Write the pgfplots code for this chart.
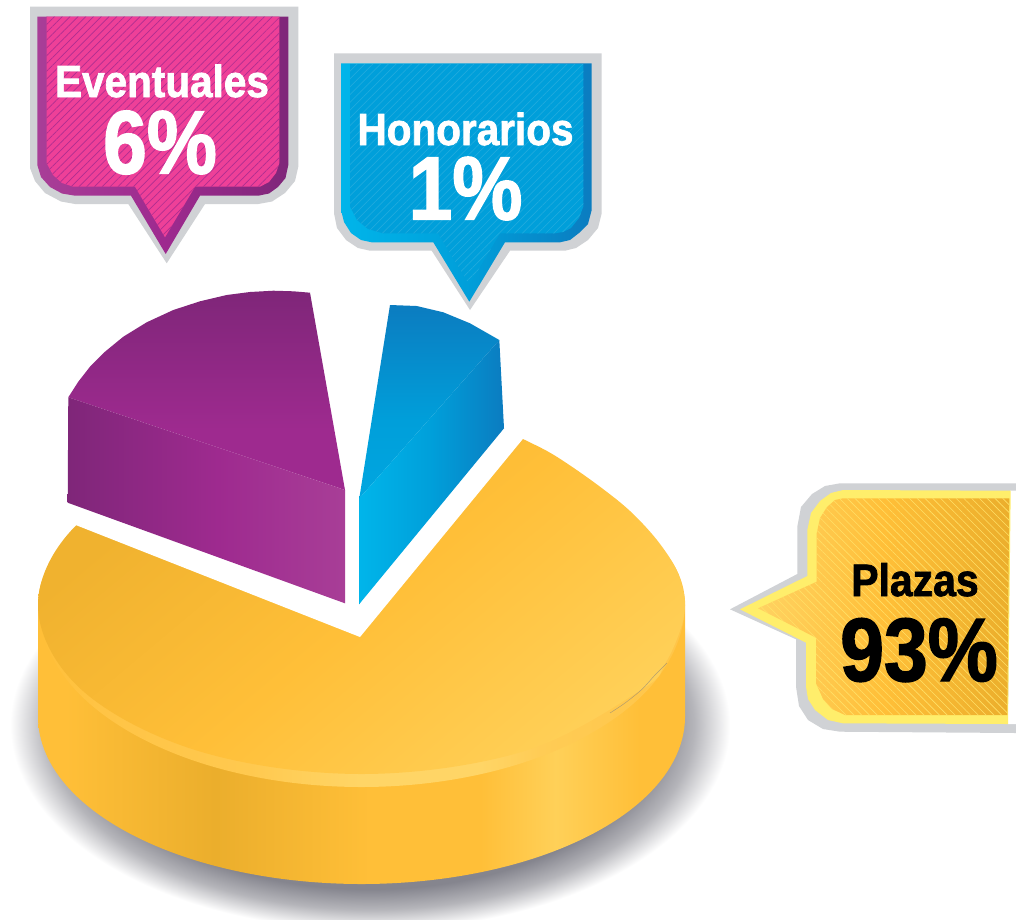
\documentclass[border=0pt]{standalone}
\usepackage{pgfplots}
\usepackage{pgfplotstable}
\usepackage{fontspec}
\pgfplotsset{compat=1.18}
\usetikzlibrary{patterns.meta}
\setmainfont{Liberation Sans}
\newfontface\heavy[FakeBold=1.6,FakeStretch=0.9]{Liberation Sans Bold}
\newfontface\heavyB[FakeBold=1.6,FakeStretch=0.875]{Liberation Sans Bold}
\definecolor{oA}{HTML}{FFBF38}\definecolor{oB}{HTML}{EBAE2C}\definecolor{oC}{HTML}{FFD058}
\definecolor{oD}{HTML}{F0B22F}\definecolor{oE}{HTML}{FFD262}
\definecolor{bA}{HTML}{FFC445}\definecolor{bB}{HTML}{FFC94F}\definecolor{bC}{HTML}{FFD566}\definecolor{bD}{HTML}{FFCC55}\definecolor{bE}{HTML}{FFC548}
\definecolor{pA}{HTML}{7F2679}\definecolor{pB}{HTML}{9E2A8F}\definecolor{pC}{HTML}{A83E97}
\definecolor{cA}{HTML}{00B5EA}\definecolor{cB}{HTML}{009FDA}\definecolor{cC}{HTML}{0B7CC0}\definecolor{cD}{HTML}{00A6E0}
\definecolor{gry}{HTML}{D0D2D5}\definecolor{pink}{HTML}{EE4098}\definecolor{ylw}{HTML}{FFEE6B}
\definecolor{sd}{HTML}{85858E}\definecolor{sm}{HTML}{B5B5BA}\definecolor{wh}{HTML}{FFFFFF}
\pgfdeclarehorizontalshading{sideS}{100bp}{color(0bp)=(oA);color(25bp)=(oA);color(27.1bp)=(oA);color(38.7bp)=(oB);color(50.7bp)=(oA);color(59.2bp)=(oA);color(65bp)=(oC);color(71.5bp)=(oA);color(100bp)=(oA)}
\pgfdeclarehorizontalshading{bandS}{100bp}{color(0bp)=(oA);color(25bp)=(oA);color(29.8bp)=(bA);color(41.4bp)=(bB);color(50bp)=(bC);color(59.2bp)=(bC);color(63.8bp)=(bD);color(75bp)=(bE);color(100bp)=(bE)}
\pgfdeclarehorizontalshading{topS}{100bp}{color(0bp)=(oD);color(30bp)=(oD);color(52bp)=(oA);color(76bp)=(oC);color(100bp)=(oC)}
\pgfdeclarehorizontalshading{purS}{100bp}{color(0bp)=(pA);color(25bp)=(pA);color(52bp)=(pB);color(75bp)=(pC);color(100bp)=(pC)}
\pgfdeclarehorizontalshading{purO}{100bp}{color(0bp)=(pC);color(25bp)=(pC);color(50bp)=(pB);color(75bp)=(pA);color(100bp)=(pA)}
\pgfdeclareverticalshading{purT}{100bp}{color(0bp)=(pB);color(40bp)=(pB);color(75bp)=(pA);color(100bp)=(pA)}
\pgfdeclarehorizontalshading{cyaS}{100bp}{color(0bp)=(cA);color(25bp)=(cA);color(50bp)=(cB);color(75bp)=(cC);color(100bp)=(cC)}
\pgfdeclareverticalshading{cyaT}{100bp}{color(0bp)=(cD);color(25bp)=(cD);color(45bp)=(cB);color(75bp)=(cC);color(100bp)=(cC)}
\pgfdeclarehorizontalshading{goldS}{100bp}{color(0bp)=(oE);color(25bp)=(oE);color(50bp)=(oA);color(75bp)=(oB);color(100bp)=(oB)}
\pgfdeclareradialshading{shad}{\pgfpoint{0bp}{0bp}}{color(0bp)=(sd);color(20bp)=(sd);color(22.5bp)=(sm);color(25bp)=(wh);color(50bp)=(wh)}

\pgfplotstableread{
x y
0 0
1016 0
1016 919
0 919
}\tPage
\pgfplotstableread{
x y
10 520
730 520
730 930
10 930
}\tShadow
\pgfplotstableread{
x y
361.5 550
523.3 572.6
641.7 634
685 717
641.7 800.5
523.3 861.6
361.5 884
199.7 861.6
81.3 800.5
38 717
81.3 634
199.7 572.6
361.5 550
}\tBottom
\pgfplotstableread{
x y
38 605
685 605
685 717
38 717
}\tRect
\pgfplotstableread{
x y
361.5 455
523.3 475
641.7 530
685 605
641.7 696
523.3 762.6
361.5 787
199.7 762.6
81.3 696
38 605
81.3 530
199.7 475
361.5 455
}\tBand
\pgfplotstableread{
x y
361.5 400
199.7 458.6
81.3 520.5
38 605
81.3 689.5
199.7 751.4
361.5 774
523.3 751.4
641.7 689.5
665.5 662.8
681 628
685 605
683 590
676.7 570
663 548
646.7 528
626.7 508
603 489
576.7 470
550 452.7
523 439
497 426
470 414
361.5 400
}\tTop
\pgfplotstableread{
x y
360 637
30 507
30 395
559 395
}\tNotch
\pgfplotstableread{
x y
610 713
625 703
641.7 689.5
655 675
667 663
}\tGloss
\pgfplotstableread{
x y
310 292.7
293.3 291.3
273.3 290.7
250 292
226.7 295
200 301.3
173.3 310
146.7 322.3
123.3 336.7
105 351.7
90 366.7
78.3 381.7
68.3 397.3
345 490
}\tPurTop
\pgfplotstableread{
x y
68.3 397.3
67.7 502.7
345 603.3
345 490
}\tPurSide
\pgfplotstableread{
x y
390 305
416.7 306
443.3 312.3
470 323.3
499.3 340
359.3 498.3
}\tCyaTop
\pgfplotstableread{
x y
499.3 340
504 428.3
359.3 604
359.3 498.3
}\tCyaSide
\pgfplotstableread{
x y
30 6.7
298.3 6.7
298.3 166.7
295 181
285 193
272 201.5
258.3 204
205 204
166.7 263.3
128.3 204
75 204
61 201.5
45 193
35 181
30 168
}\tEvG
\pgfplotstableread{
x y
37.3 16.7
288.3 16.7
288.3 165
285.5 178
278 187
269 193.5
258.3 195.7
200 195.7
165.7 254
131 195.7
75 195.7
62 193.5
50 187
41 177
37.3 165
}\tEvP
\pgfplotstableread{
x y
46.7 16.7
279.3 16.7
279.3 163.3
276 173
269 182
260 186.7
195 186.7
165 237.3
135 186.7
73.3 186.7
62 183
53 175
46.7 163.3
}\tEvI
\pgfplotstableread{
x y
334 53.3
601.7 53.3
601.7 213.3
598 228
588 240
576 248
565 250.7
510 250.7
470 310
431.7 250.7
370 250.7
358 248
346 240
337 228
334 213.3
}\tHoG
\pgfplotstableread{
x y
341 63.3
591.7 63.3
591.7 210
588 224
579 233
570 240
560 242.3
505 242.3
469.3 301.7
433.3 242.3
371.7 242.3
361 240
351 233
344 222
341 210
}\tHoB
\pgfplotstableread{
x y
350 64
583.3 64
583.3 206.7
579 218
571 228
563 232
555 233.3
500 233.3
469.3 285
438 233.3
383 233.3
368 229
357 220
350 206.7
}\tHoI
\pgfplotstableread{
x y
730 609.3
797.3 574
797.3 526.7
801 507
812 494
825 486
840 483.3
1016 483.3
1016 733
840 731.7
823 729
808 720
799 706
796 686.7
796 639.3
}\tPlG
\pgfplotstableread{
x y
1010 490.7
1016 490.7
1016 724
1008 724
}\tPlW
\pgfplotstableread{
x y
740 609.3
807.3 576
807.3 530
811 513
820 501
831 493
843 490
1010.7 490.7
1008 724
843 723.3
828 720
815 710
808 699
806 686.7
806 642.7
}\tPlY
\pgfplotstableread{
x y
758 608.3
816.7 581.7
816.7 533.3
820 518
827 507
835 500
843 498.3
1009.3 498.3
1007.3 715
845 715
832 709
823 699
816 683.3
816 637.7
}\tPlI

\begin{document}
\begin{tikzpicture}
\begin{axis}[width=1016pt,height=919pt,scale only axis,hide axis,
  xmin=0,xmax=1016,ymin=0,ymax=919,y dir=reverse]
\addplot[draw=none,fill=white] table {\tPage};
% shadow
\addplot[draw=none,shading=shad] table {\tShadow};
% pie side
\addplot[draw=none,shading=sideS,smooth,tension=0.63] table {\tBottom};
\addplot[draw=none,shading=sideS] table {\tRect};
\addplot[draw=none,shading=bandS,smooth,tension=0.63] table {\tBand};
\addplot[draw=none,shading=topS,shading angle=-50,smooth,tension=0.6] table {\tTop};
\addplot[draw=gray,line width=0.5pt,opacity=0.6,smooth] table {\tGloss};
\addplot[draw=none,fill=white] table {\tNotch};
% purple and blue wedges
\addplot[draw=none,shading=purT] table {\tPurTop};
\addplot[draw=none,shading=purS] table {\tPurSide};
\addplot[draw=none,shading=cyaT] table {\tCyaTop};
\addplot[draw=none,shading=cyaS] table {\tCyaSide};
% callouts
\addplot[draw=none,fill=gry] table {\tEvG};
\addplot[draw=none,shading=purO] table {\tEvP};
\addplot[draw=none,fill=pink] table {\tEvI};
\addplot[draw=none,pattern={Lines[angle=45,distance=5.5pt,line width=0.7pt]},pattern color=pB!80!pink] table {\tEvI};
\addplot[draw=none,fill=gry] table {\tHoG};
\addplot[draw=none,shading=cyaS] table {\tHoB};
\addplot[draw=none,fill=cB] table {\tHoI};
\addplot[draw=none,pattern={Lines[angle=45,distance=5.5pt,line width=0.7pt]},pattern color=cB!88!white] table {\tHoI};
\addplot[draw=none,fill=gry] table {\tPlG};
\addplot[draw=none,fill=white] table {\tPlW};
\addplot[draw=none,fill=ylw] table {\tPlY};
\addplot[draw=none,shading=goldS] table {\tPlI};
\addplot[draw=none,pattern={Lines[angle=-45,distance=5.5pt,line width=0.6pt]},pattern color=ylw!50!oE] table {\tPlI};
% text
\node[anchor=base,inner sep=0pt,text=white] at (axis cs:162,97) {\heavy\fontsize{45}{45}\selectfont Eventuales};
\node[anchor=base,inner sep=0pt,text=white] at (axis cs:160,173.5) {\heavyB\fontsize{90}{90}\selectfont 6\%};
\node[anchor=base,inner sep=0pt,text=white] at (axis cs:465.5,145) {\heavy\fontsize{45}{45}\selectfont Honorarios};
\node[anchor=base,inner sep=0pt,text=white] at (axis cs:465.5,219.5) {\heavyB\fontsize{90}{90}\selectfont 1\%};
\node[anchor=base,inner sep=0pt,text=black] at (axis cs:915,596) {\heavy\fontsize{45.5}{45.5}\selectfont Plazas};
\node[anchor=base,inner sep=0pt,text=black] at (axis cs:919,681) {\heavyB\fontsize{90}{90}\selectfont 93\%};
\end{axis}
\end{tikzpicture}
\end{document}
